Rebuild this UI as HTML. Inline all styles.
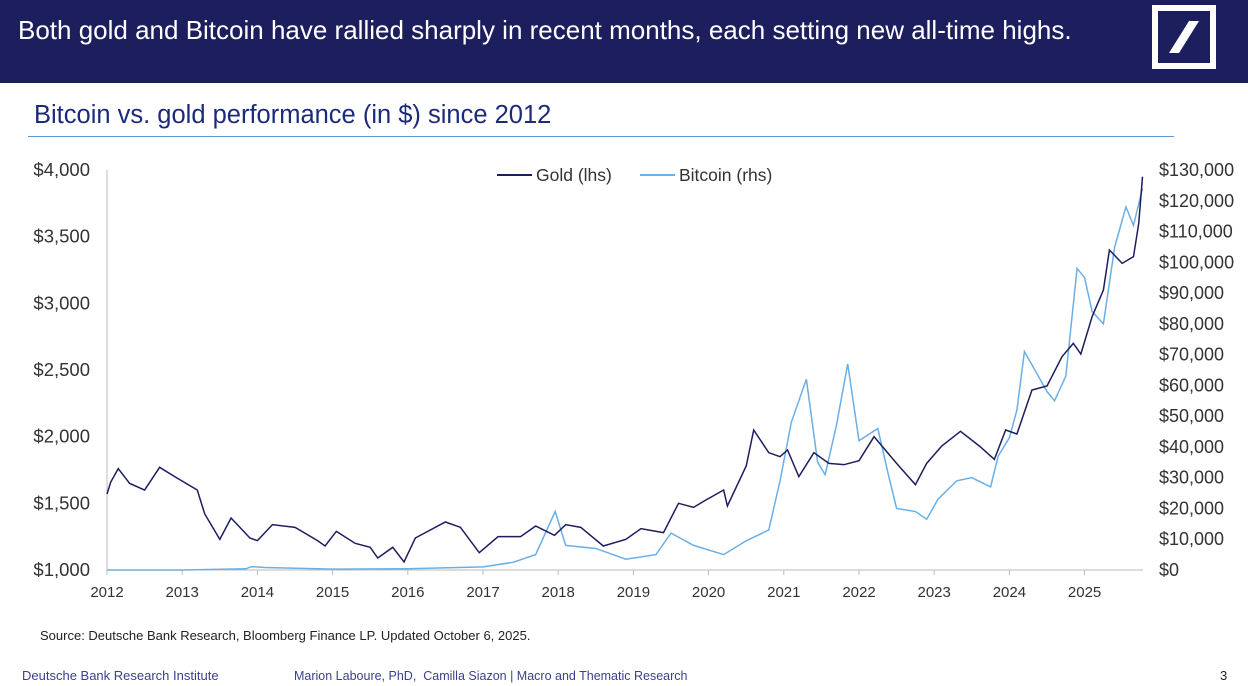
<!DOCTYPE html>
<html><head><meta charset="utf-8"><style>
body{margin:0;width:1248px;height:686px;background:#fff;font-family:"Liberation Sans",sans-serif;position:relative;overflow:hidden}
.hdr{position:absolute;left:0;top:0;width:1248px;height:83px;background:#1c1e5e}
.ttl{position:absolute;left:18px;top:15px;color:#fff;font-size:26px}
.logo{position:absolute;left:1152px;top:5px;width:52px;height:52px;border:6px solid #fff}
.sub{position:absolute;left:34px;top:101px;color:#1c2a7c;font-size:25.5px}
.rule{position:absolute;left:28px;top:136px;width:1146px;height:1px;background:#5b9bd5}
.src{position:absolute;left:40px;top:628px;font-size:13px;color:#222}
.ft{position:absolute;top:668px;font-size:13px;color:#3a3f8f}
</style></head><body>
<div class="hdr">
<div class="ttl">Both gold and Bitcoin have rallied sharply in recent months, each setting new all-time highs.</div>
<div class="logo"><svg width="52" height="52"><polygon points="31,10 41,10 21,42 11,42" fill="#fff"/></svg></div>
</div>
<div class="sub">Bitcoin vs. gold performance (in $) since 2012</div>
<div class="rule"></div>
<svg id="chart" width="1248" height="686" style="position:absolute;left:0;top:0"></svg>
<div class="src">Source: Deutsche Bank Research, Bloomberg Finance LP. Updated October 6, 2025.</div>
<div class="ft" style="left:22px">Deutsche Bank Research Institute</div>
<div class="ft" style="left:294px;top:669px;font-size:12.5px">Marion Laboure, PhD,&nbsp; Camilla Siazon | Macro and Thematic Research</div>
<div class="ft" style="left:1220px;color:#222">3</div>
<script>
const years=[2012,2013,2014,2015,2016,2017,2018,2019,2020,2021,2022,2023,2024,2025];
const leftTicks=[1000,1500,2000,2500,3000,3500,4000];
const rightTicks=[0,10000,20000,30000,40000,50000,60000,70000,80000,90000,100000,110000,120000,130000];
const goldT=[2012.0,2012.05,2012.15,2012.3,2012.5,2012.7,2012.9,2013.2,2013.3,2013.5,2013.65,2013.9,2014.0,2014.2,2014.5,2014.8,2014.9,2015.05,2015.3,2015.5,2015.6,2015.8,2015.95,2016.1,2016.5,2016.7,2016.95,2017.2,2017.5,2017.7,2017.95,2018.1,2018.3,2018.6,2018.9,2019.1,2019.4,2019.6,2019.8,2019.95,2020.2,2020.25,2020.5,2020.6,2020.8,2020.95,2021.05,2021.2,2021.4,2021.6,2021.8,2022.0,2022.2,2022.5,2022.75,2022.9,2023.1,2023.35,2023.6,2023.8,2023.95,2024.1,2024.3,2024.5,2024.7,2024.85,2024.95,2025.1,2025.25,2025.33,2025.5,2025.65,2025.72,2025.77];
const goldV=[1570,1660,1760,1650,1600,1770,1700,1600,1420,1230,1390,1240,1220,1340,1320,1220,1180,1290,1200,1170,1090,1170,1060,1240,1360,1320,1130,1250,1250,1330,1260,1340,1320,1180,1230,1310,1280,1500,1470,1520,1600,1480,1780,2050,1880,1850,1900,1700,1880,1800,1790,1820,2000,1800,1640,1800,1930,2040,1930,1830,2050,2020,2350,2380,2600,2700,2620,2900,3100,3400,3300,3350,3600,3950];
const btcT=[2012.0,2013.0,2013.85,2013.92,2014.1,2015.0,2016.0,2017.0,2017.4,2017.7,2017.96,2018.1,2018.5,2018.9,2019.3,2019.5,2019.8,2020.2,2020.5,2020.8,2020.95,2021.1,2021.3,2021.45,2021.55,2021.7,2021.85,2022.0,2022.25,2022.4,2022.5,2022.75,2022.9,2023.05,2023.3,2023.5,2023.75,2023.85,2024.0,2024.1,2024.2,2024.5,2024.6,2024.75,2024.9,2025.0,2025.1,2025.25,2025.4,2025.55,2025.65,2025.77];
const btcV=[5,20,400,1100,800,300,400,1000,2500,5000,19000,8000,7000,3500,5000,12000,8000,5000,9500,13000,29000,48000,62000,35000,31000,47000,67000,42000,46000,30000,20000,19000,16500,23000,29000,30000,27000,37000,43000,52000,71000,58000,55000,63000,98000,95000,84000,80000,105000,118000,112000,124000];
const svg=document.getElementById('chart'),NS='http://www.w3.org/2000/svg';
const X=t=>107+(t-2012)*75.2, YL=v=>570-(v-1000)*400/3000, YR=v=>570-v*400/130000;
function mk(tag,at,txt){const e=document.createElementNS(NS,tag);for(const k in at)e.setAttribute(k,at[k]);if(txt!==undefined)e.textContent=txt;svg.appendChild(e);return e;}
const ax=mk('line',{x1:107,x2:1143,y1:570,y2:570,stroke:'#bbb'});


const ay=mk('line',{x1:107,x2:107,y1:170,y2:570,stroke:'#bbb'});


years.forEach(y=>{const t=mk('text',{x:X(y),y:597,'text-anchor':'middle','font-size':15,fill:'#333'},String(y));


mk('line',{x1:X(y),x2:X(y),y1:570,y2:575,stroke:'#bbb'});});
leftTicks.forEach(v=>{const t=mk('text',{x:90,y:YL(v)+6,'text-anchor':'end','font-size':18.5,fill:'#333'},'$'+v.toLocaleString('en-US'));

});
rightTicks.forEach(v=>{const t=mk('text',{x:1159,y:YR(v)+6,'font-size':18,fill:'#333'},'$'+v.toLocaleString('en-US'));

});
const bp=mk('polyline',{points:btcT.map((t,i)=>X(t)+','+YR(btcV[i])).join(' '),fill:'none',stroke:'#6aafe6','stroke-width':1.5});


const gp=mk('polyline',{points:goldT.map((t,i)=>X(t)+','+YL(goldV[i])).join(' '),fill:'none',stroke:'#1c1e5e','stroke-width':1.5});


mk('line',{x1:497,x2:532,y1:175,y2:175,stroke:'#1c1e5e','stroke-width':2});
const l1=mk('text',{x:536,y:181,'font-size':17.5,fill:'#333'},'Gold (lhs)');


mk('line',{x1:640,x2:675,y1:175,y2:175,stroke:'#6aafe6','stroke-width':2});
const l2=mk('text',{x:679,y:181,'font-size':17.5,fill:'#333'},'Bitcoin (rhs)');


</script>
</body></html>
